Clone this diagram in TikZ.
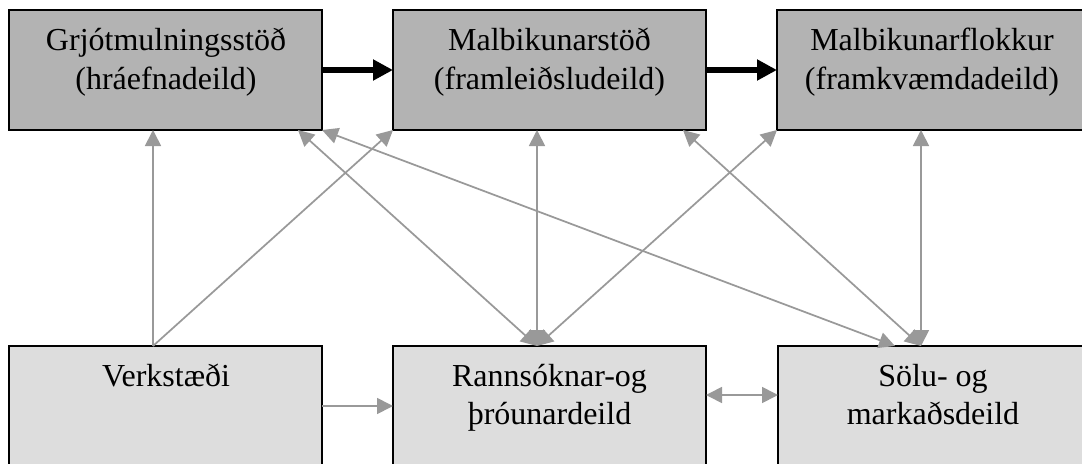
\documentclass[tikz,border=0pt]{standalone}
\usepackage{fontspec}
\setmainfont{Liberation Serif}
\usetikzlibrary{arrows.meta,calc}
\definecolor{topfill}{HTML}{B3B3B3}
\definecolor{botfill}{HTML}{DDDDDD}
\definecolor{linkgray}{HTML}{999999}
\begin{document}
\begin{tikzpicture}[x=0.75pt,y=-0.75pt,
  box/.style={draw=black,line width=1.1pt,minimum width=234.75pt,minimum height=90pt,inner sep=0pt,outer sep=0pt},
  topbox/.style={box,fill=topfill},
  botbox/.style={box,fill=botfill},
  lbl/.style={font=\fontsize{24pt}{30pt}\selectfont,anchor=base,inner sep=0pt},
  flow/.style={draw=black,line width=4.5pt,-{Triangle[length=15pt,width=15pt]}},
  link/.style={draw=linkgray,line width=1.3pt,-{Triangle[length=12pt,width=12pt]}},
  dlink/.style={draw=linkgray,line width=1.3pt,{Triangle[length=12pt,width=12pt]}-{Triangle[length=12pt,width=12pt]}}
]
\clip (0,0) rectangle (1082,464);
\fill[white] (0,0) rectangle (1082,464);

% boxes
\node[topbox] (A) at (165.5,70) {};
\node[topbox] (B) at (549.5,70) {};
\node[topbox] (C) at (933.5,70) {};
\node[botbox] (D) at (165.5,406) {};
\node[botbox] (E) at (549.5,406) {};
\node[botbox] (F) at (934.5,406) {};

% labels
\node[lbl] (A1) at (166,50) {Grjótmulningsstöð};
\node[lbl] (A2) at (166,89) {(hráefnadeild)};
\node[lbl] (B1) at (549.5,50) {Malbikunarstöð};
\node[lbl] (B2) at (549.5,89) {(framleiðsludeild)};
\node[lbl] (C1) at (932,50) {Malbikunarflokkur};
\node[lbl] (C2) at (932,89) {(framkvæmdadeild)};
\node[lbl] (D1) at (166,386) {Verkstæði};
\node[lbl] (E1) at (549.5,386) {Rannsóknar-og};
\node[lbl] (E2) at (549.5,424) {þróunardeild};
\node[lbl] (F1) at (933,386) {Sölu- og};
\node[lbl] (F2) at (933,424) {markaðsdeild};

% anchor points
\coordinate (Dtop) at ($(D.north west)+(144,0)$);
\coordinate (Abot) at ($(A.south west)+(144,0)$);
\coordinate (Abr) at ($(A.south west)+(289,0)$);
\coordinate (Etop) at ($(E.north west)+(144,0)$);
\coordinate (Bbot) at ($(B.south west)+(144,0)$);
\coordinate (Bbr) at ($(B.south west)+(290,0)$);
\coordinate (Ftop1) at ($(F.north west)+(117,0)$);
\coordinate (Ftop2) at ($(F.north west)+(143,0)$);
\coordinate (Cbot) at ($(C.south west)+(144,0)$);
\coordinate (Er) at ($(E.east)+(0,-11)$);
\coordinate (Fl) at ($(F.west)+(0,-11)$);

% main flow
\draw[flow] (A.east) -- (B.west);
\draw[flow] (B.east) -- (C.west);

% links
\draw[link] (Dtop) -- (Abot);
\draw[link] (Dtop) -- (B.south west);
\draw[dlink] (Abr) -- (Etop);
\draw[dlink] (A.south east) -- (Ftop1);
\draw[dlink] (Bbot) -- (Etop);
\draw[dlink] (Bbr) -- (Ftop2);
\draw[dlink] (C.south west) -- (Etop);
\draw[dlink] (Cbot) -- (Ftop2);
\draw[link] (D.east) -- (E.west);
\draw[dlink] (Er) -- (Fl);
\end{tikzpicture}
\end{document}
